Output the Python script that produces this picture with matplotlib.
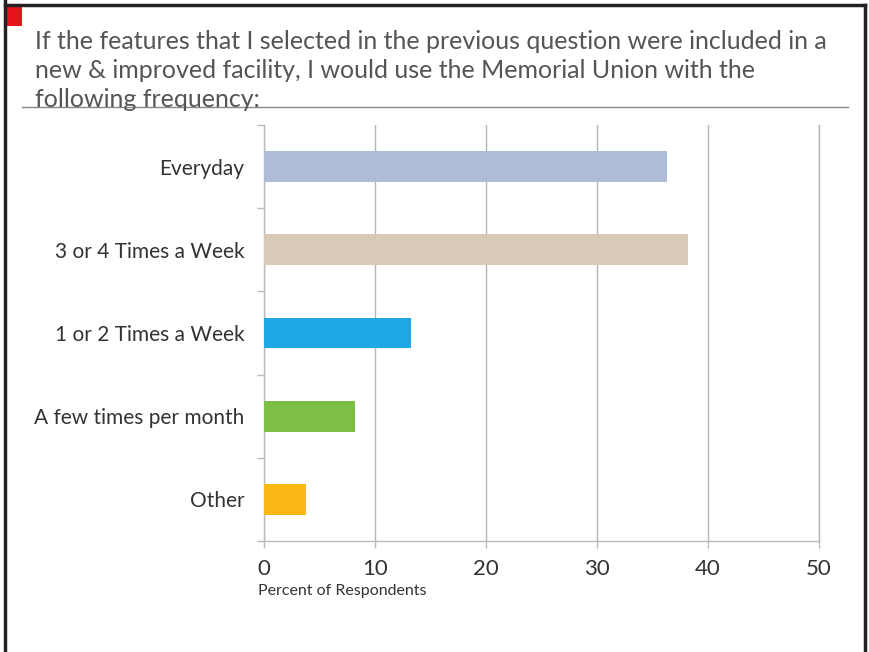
import matplotlib
matplotlib.use("Agg")
import matplotlib.pyplot as plt
from matplotlib.lines import Line2D
from matplotlib.patches import Rectangle

categories = ["Everyday", "3 or 4 Times a Week", "1 or 2 Times a Week",
              "A few times per month", "Other"]
percents = [36.3, 38.2, 13.2, 8.2, 3.8]
bar_colors = ["#aebcd6", "#d9cab8", "#1ea9e6", "#7dbf45", "#fbb714"]
x_ticks = [0, 10, 20, 30, 40, 50]
title = ("If the features that I selected in the previous question were included in a\n"
         "new & improved facility, I would use the Memorial Union with the\n"
         "following frequency:")
x_label = "Percent of Respondents"

plt.rcParams["font.family"] = ["Lato", "DejaVu Sans"]

W, H = 869, 652
fig = plt.figure(figsize=(W / 100, H / 100), dpi=100)
fig.patch.set_facecolor("white")


def fx(px):
    return px / W


def fy(py):
    return 1 - py / H


# page frame and red corner marker
frame = [((5, 5), (0, 652)), ((5, 865), (5, 5)), ((865, 865), (5, 652))]
for xs, ys in frame:
    fig.add_artist(Line2D([fx(v) for v in xs], [fy(v) for v in ys],
                          color="#222222", lw=2.5, transform=fig.transFigure))
fig.add_artist(Rectangle((fx(6), fy(26)), fx(16), 20 / H, color="#e8141c",
                         transform=fig.transFigure, lw=0))

# question text with underline rule
fig.text(fx(35), fy(30), title, ha="left", va="top", fontsize=18,
         color="#555555", linespacing=1.31)
fig.add_artist(Line2D([fx(22), fx(848)], [fy(107), fy(107)],
                      color="#888888", lw=1.0, transform=fig.transFigure))

ax = fig.add_axes([fx(264), fy(541), (819 - 264) / W, (541 - 125) / H])
y = list(range(len(categories)))
ax.barh(y, percents, height=0.37, color=bar_colors, zorder=3)
ax.set_xlim(0, 50)
ax.set_ylim(4.5, -0.5)
ax.set_xticks(x_ticks)
ax.set_xticklabels([str(t) for t in x_ticks], fontsize=16, color="#333333")
ax.set_yticks(y)
ax.set_yticklabels(categories, fontsize=15, color="#333333")
ax.tick_params(axis="y", length=0, pad=14)
ax.set_yticks([i + 0.5 for i in range(-1, len(categories))], minor=True)
ax.tick_params(axis="y", which="minor", length=5, color="#bbbbbb", width=1)
ax.tick_params(axis="x", length=5, color="#bbbbbb", width=1, pad=8)
ax.grid(axis="x", color="#b5b5b5", lw=1.0, zorder=1)
ax.spines["top"].set_visible(False)
ax.spines["right"].set_color("#b5b5b5")
ax.spines["right"].set_linewidth(1.0)
for s in ["left", "bottom"]:
    ax.spines[s].set_color("#bbbbbb")
    ax.spines[s].set_linewidth(1.0)

fig.text(fx(258), fy(584), x_label, ha="left", va="top", fontsize=11.5,
         color="#333333")

fig.savefig("out.png", dpi=100, facecolor="white")
